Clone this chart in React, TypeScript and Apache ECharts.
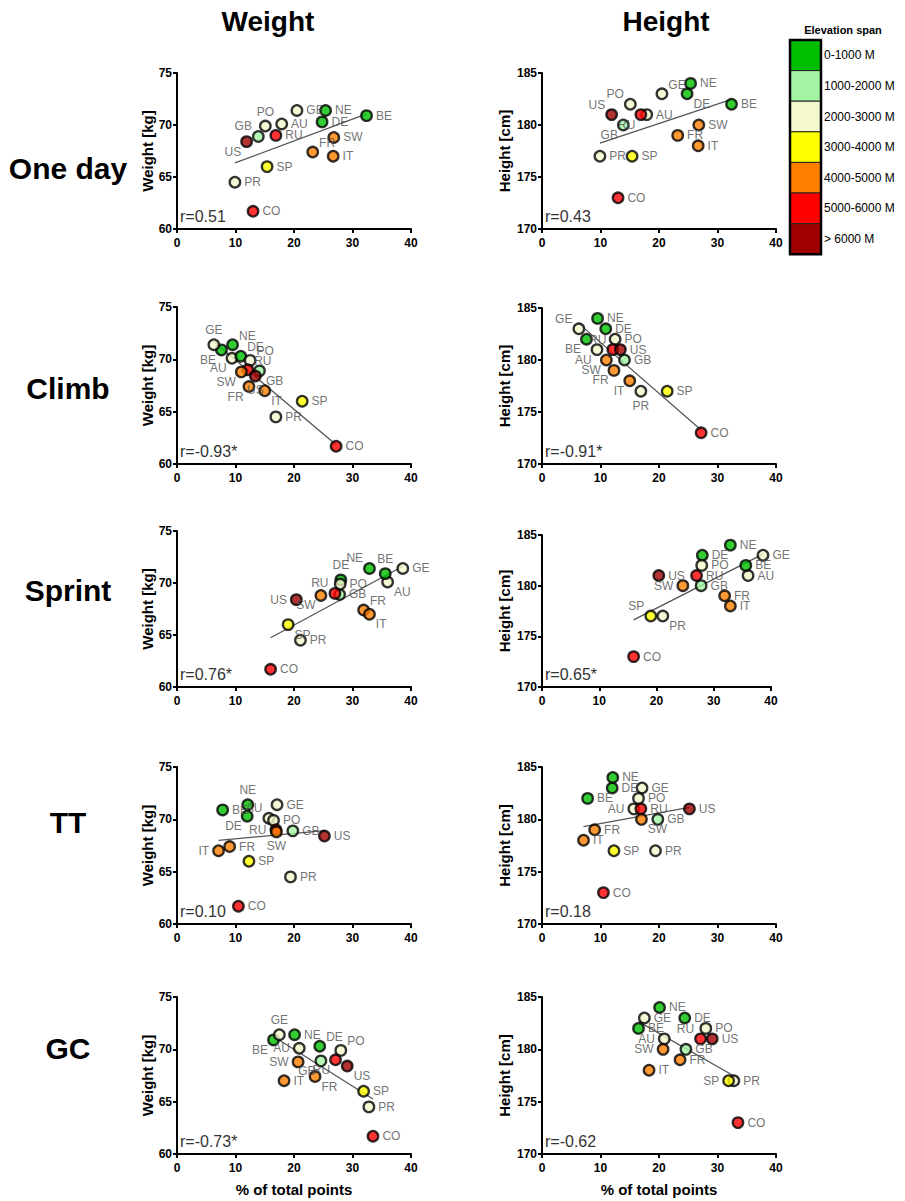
import React, { useEffect, useRef } from "react";
import * as echarts from "echarts";

// Teams (national team codes) and their rider profile
const teams = ["AU", "BE", "CO", "DE", "FR", "GB", "GE", "IT", "NE", "PO", "PR", "RU", "SP", "SW", "US"];
const weightKg = [70.1, 70.9, 61.7, 70.3, 67.4, 68.9, 71.4, 67.0, 71.4, 69.9, 64.5, 69.0, 66.0, 68.8, 68.4];
const heightCm = [181, 182, 173, 183, 179, 180, 183, 178, 184, 182, 177, 181, 177, 180, 181];
// index into elevationLabels / elevationColors
const elevationClass = [2, 0, 5, 0, 4, 1, 2, 4, 0, 2, 2, 5, 3, 4, 6];

// % of total points per race type, same team order
const oneDayPct = [17.9, 32.4, 13.0, 24.8, 23.2, 13.9, 20.5, 26.7, 25.4, 15.1, 9.9, 16.9, 15.4, 26.8, 11.9];
const climbPct = [9.4, 7.6, 27.2, 10.9, 12.3, 14.1, 6.3, 15.0, 9.5, 12.5, 16.9, 12.1, 21.4, 11.0, 13.4];
const sprintPct = [36.0, 35.6, 16.0, 28.0, 31.9, 27.8, 38.6, 32.9, 32.9, 27.9, 21.1, 27.0, 19.0, 24.6, 20.4];
const ttPct = [15.7, 7.8, 10.5, 12.0, 9.0, 19.8, 17.1, 7.1, 12.1, 16.5, 19.4, 16.9, 12.3, 17.0, 25.2];
const gcPct = [20.9, 16.5, 33.5, 24.4, 23.6, 24.6, 17.5, 18.3, 20.1, 28.0, 32.8, 27.1, 31.9, 20.7, 29.1];

const categories = ["One day", "Climb", "Sprint", "TT", "GC"];
const pointShares = [oneDayPct, climbPct, sprintPct, ttPct, gcPct];
const rWeight = ["r=0.51", "r=-0.93*", "r=0.76*", "r=0.10", "r=-0.73*"];
const rHeight = ["r=0.43", "r=-0.91*", "r=0.65*", "r=0.18", "r=-0.62"];

const xTicks = [0, 10, 20, 30, 40];
const weightTicks = [60, 65, 70, 75];
const heightTicks = [170, 175, 180, 185];

const elevationLabels = ["0-1000 M", "1000-2000 M", "2000-3000 M", "3000-4000 M", "4000-5000 M", "5000-6000 M", "> 6000 M"];
const elevationColors = ["#00bf00", "#a3f5a3", "#f4f8cc", "#ffff00", "#ff8000", "#ff0000", "#a00000"];

// Label placement around each marker (default: right of it)
const weightLabelSides: Record<string, string>[] = [
  { PO: "t", GB: "tl", US: "bl", FR: "tr" },
  { GE: "t", NE: "tr", BE: "bl", DE: "tr", PO: "tr", AU: "bl", RU: "tr", GB: "br", SW: "bl", US: "b", FR: "bl", IT: "br" },
  { NE: "tl", BE: "t", DE: "t", RU: "tl", US: "l", SW: "bl", FR: "tr", IT: "br", AU: "br", SP: "br" },
  { NE: "t", AU: "tl", DE: "bl", RU: "l", SW: "b", IT: "l" },
  { GE: "t", BE: "bl", DE: "tr", PO: "tr", AU: "l", SW: "l", GB: "bl", RU: "bl", US: "br", FR: "br" },
];
const heightLabelSides: Record<string, string>[] = [
  { GE: "tr", DE: "br", PO: "tl", US: "tl", RU: "bl", GB: "bl" },
  { GE: "tl", BE: "bl", RU: "tl", AU: "bl", SW: "bl", FR: "bl", IT: "bl", PR: "b" },
  { SW: "l", SP: "tl", PR: "br" },
  { AU: "l", SW: "br" },
  { RU: "tl", AU: "l", SW: "l", SP: "l" },
];

const FONT = "'Liberation Sans', Arial, Helvetica, sans-serif";

function labelFor(side: string | undefined) {
  switch (side) {
    case "t": return { position: "top", distance: 2 };
    case "b": return { position: "bottom", distance: 2 };
    case "l": return { position: "left", distance: 3 };
    case "tl": return { position: "left", distance: 3, offset: [3, -10] };
    case "tr": return { position: "right", distance: 3, offset: [-3, -9] };
    case "bl": return { position: "left", distance: 3, offset: [4, 10] };
    case "br": return { position: "right", distance: 3, offset: [-3, 10] };
    default: return { position: "right", distance: 3 };
  }
}

// Least-squares fit drawn from the smallest to the largest x
function fitLine(xs: number[], ys: number[]) {
  const n = xs.length;
  const mx = xs.reduce((a, b) => a + b, 0) / n;
  const my = ys.reduce((a, b) => a + b, 0) / n;
  let sxy = 0;
  let sxx = 0;
  for (let i = 0; i < n; i++) {
    sxy += (xs[i] - mx) * (ys[i] - my);
    sxx += (xs[i] - mx) * (xs[i] - mx);
  }
  const b = sxy / sxx;
  const a = my - b * mx;
  const x0 = Math.min(...xs);
  const x1 = Math.max(...xs);
  return [[x0, a + b * x0], [x1, a + b * x1]];
}

// panel frames
const leftCol = { left: 177, width: 234 };
const rightCol = { left: 542, width: 234 };
const leftTops = [73, 307, 531, 767, 997];
const rightTops = [73, 308, 535, 767, 997];
const leftHeights = [156, 157, 156, 157, 157];
const rightHeights = [156, 156, 152, 157, 157];
const rightWidths = [234, 234, 229, 234, 234];
const rowTitleY = [168, 388, 590, 822, 1048];

function buildOption() {
  const grid: any[] = [];
  const xAxis: any[] = [];
  const yAxis: any[] = [];
  const series: any[] = [];
  const graphic: any[] = [];

  const axisLine = { show: true, onZero: false, lineStyle: { color: "#000", width: 2 } };
  const axisTick = { show: true, inside: false, length: 4, lineStyle: { color: "#000", width: 2 } };
  const axisLabel = { color: "#000", fontWeight: "bold", fontSize: 12, fontFamily: FONT };

  categories.forEach((cat, row) => {
    const xs = pointShares[row];
    [0, 1].forEach((col) => {
      const idx = row * 2 + col;
      const isW = col === 0;
      const ys = isW ? weightKg : heightCm;
      const ticks = isW ? weightTicks : heightTicks;
      const left = isW ? leftCol.left : rightCol.left;
      const width = isW ? leftCol.width : rightWidths[row];
      const top = isW ? leftTops[row] : rightTops[row];
      const height = isW ? leftHeights[row] : rightHeights[row];
      const sides = isW ? weightLabelSides[row] : heightLabelSides[row];

      grid.push({ left, top, width, height, containLabel: false, outerBoundsMode: "none" });
      xAxis.push({
        gridIndex: idx,
        type: "value",
        min: xTicks[0],
        max: xTicks[xTicks.length - 1],
        interval: xTicks[1] - xTicks[0],
        axisLine,
        axisTick,
        axisLabel: { ...axisLabel, margin: 8 },
        splitLine: { show: false },
        name: row === categories.length - 1 ? "% of total points" : "",
        nameLocation: "middle",
        nameGap: 28,
        nameTextStyle: { color: "#000", fontWeight: "bold", fontSize: 15, fontFamily: FONT },
      });
      yAxis.push({
        gridIndex: idx,
        type: "value",
        min: ticks[0],
        max: ticks[ticks.length - 1],
        interval: ticks[1] - ticks[0],
        axisLine,
        axisTick,
        axisLabel: { ...axisLabel, margin: 5 },
        splitLine: { show: false },
        name: isW ? "Weight [kg]" : "Height [cm]",
        nameLocation: "middle",
        nameGap: isW ? 21 : 30,
        nameTextStyle: { color: "#000", fontWeight: "bold", fontSize: 15, fontFamily: FONT },
      });

      series.push({
        type: "line",
        xAxisIndex: idx,
        yAxisIndex: idx,
        data: fitLine(xs, ys),
        showSymbol: false,
        silent: true,
        z: 1,
        lineStyle: { color: "#555", width: 1.3 },
      });

      series.push({
        type: "scatter",
        xAxisIndex: idx,
        yAxisIndex: idx,
        symbol: "circle",
        symbolSize: 10.5,
        z: 3,
        data: teams.map((t, i) => ({
          name: t,
          value: [xs[i], ys[i]],
          itemStyle: { color: elevationColors[elevationClass[i]], borderColor: "#000", borderWidth: 2.3 },
          label: labelFor(sides[t]),
        })),
        label: {
          show: true,
          formatter: "{b}",
          color: "#4d4d4d",
          fontSize: 12,
          fontFamily: FONT,
        },
      });

      graphic.push({
        type: "text",
        left: left + 3,
        top: top + height - 21,
        style: {
          text: isW ? rWeight[row] : rHeight[row],
          fill: "#333",
          fontSize: 16,
          fontFamily: FONT,
        },
      });
    });

    graphic.push({
      type: "text",
      x: 68,
      y: rowTitleY[row],
      style: {
        text: cat,
        fill: "#000",
        fontSize: 30,
        fontWeight: "bold",
        fontFamily: FONT,
        align: "center",
        verticalAlign: "middle",
      },
    });
  });

  // column titles
  graphic.push({
    type: "text",
    x: 268,
    y: 21,
    style: { text: "Weight", fill: "#000", fontSize: 28, fontWeight: "bold", fontFamily: FONT, align: "center", verticalAlign: "middle" },
  });
  graphic.push({
    type: "text",
    x: 666,
    y: 21,
    style: { text: "Height", fill: "#000", fontSize: 28, fontWeight: "bold", fontFamily: FONT, align: "center", verticalAlign: "middle" },
  });

  // elevation colour key
  const keyX = 790;
  const keyY = 40;
  const keyW = 31;
  const keyH = 30.6;
  graphic.push({
    type: "text",
    x: 843,
    y: 30,
    style: { text: "Elevation span", fill: "#000", fontSize: 11, fontWeight: "bold", fontFamily: FONT, align: "center", verticalAlign: "middle" },
  });
  elevationLabels.forEach((lab, i) => {
    graphic.push({
      type: "rect",
      shape: { x: keyX, y: keyY + i * keyH, width: keyW, height: keyH },
      style: { fill: elevationColors[i], stroke: "#222", lineWidth: 1 },
    });
    graphic.push({
      type: "text",
      x: keyX + keyW + 3,
      y: keyY + i * keyH + keyH / 2,
      style: { text: lab, fill: "#000", fontSize: 12, fontFamily: FONT, align: "left", verticalAlign: "middle" },
    });
  });
  graphic.push({
    type: "rect",
    shape: { x: keyX, y: keyY, width: keyW, height: keyH * elevationLabels.length },
    style: { fill: "none", stroke: "#000", lineWidth: 2.5 },
  });

  return {
    animation: false,
    backgroundColor: "#fff",
    textStyle: { fontFamily: FONT },
    grid,
    xAxis,
    yAxis,
    series,
    graphic,
  };
}

export default function App() {
  const ref = useRef<HTMLDivElement>(null);
  useEffect(() => {
    if (!ref.current) return;
    const chart = echarts.init(ref.current, null, { renderer: "svg" });
    chart.setOption(buildOption() as any);
    return () => chart.dispose();
  }, []);
  return (
    <div
      ref={ref}
      style={{ position: "absolute", left: 0, top: 0, width: 905, height: 1201, background: "#fff" }}
    />
  );
}
